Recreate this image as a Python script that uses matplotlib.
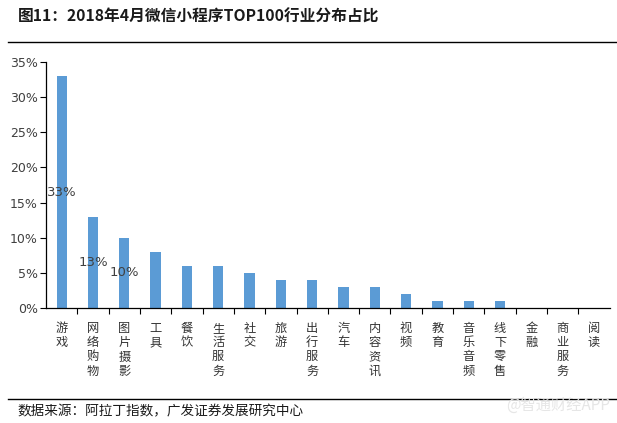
import matplotlib
matplotlib.use("Agg")
import matplotlib.pyplot as plt
import numpy as np
from matplotlib.lines import Line2D

plt.rcParams['font.family'] = ['Noto Sans CJK SC', 'DejaVu Sans']

# 行业分类与占比 (%)
hangye = ["游戏", "网络购物", "图片摄影", "工具", "餐饮", "生活服务", "社交", "旅游",
          "出行服务", "汽车", "内容资讯", "视频", "教育", "音乐音频", "线下零售",
          "金融", "商业服务", "阅读"]
zhanbi = [33, 13, 10, 8, 6, 6, 5, 4, 4, 3, 3, 2, 1, 1, 1, 0, 0, 0]
# 只标注前三个
biaozhu = [0, 1, 2]

fig = plt.figure(figsize=(6.17, 4.23), dpi=100)
ax = fig.add_axes([0.0746, 0.2719, 0.9134, 0.5816])

x = np.arange(len(hangye))
ax.bar(x, zhanbi, 0.33, color='#5B9BD5', zorder=2)

for i in biaozhu:
    ax.text(x[i], zhanbi[i] / 2, f"{zhanbi[i]}%", ha='center', va='center',
            fontsize=9.5, color='#404040', family=['DejaVu Sans'])

ax.set_xlim(-0.5, len(hangye) - 0.5)
ax.set_ylim(0, 35)
ax.set_yticks(np.arange(0, 36, 5))
ax.set_yticklabels([f"{v}%" for v in range(0, 36, 5)], fontsize=9, color='#404040',
                   family=['DejaVu Sans'])

# 类别间的刻度
ax.set_xticks(np.arange(0.5, len(hangye) - 0.5, 1))
ax.set_xticklabels([])
ax.tick_params(axis='x', direction='out', length=4, width=0.8)
ax.tick_params(axis='y', direction='out', length=4, width=0.8, pad=2)

for i, name in enumerate(hangye):
    ax.text(x[i], -2.0, "\n".join(name), ha='center', va='top', fontsize=8.8,
            color='#333333', linespacing=1.12)

for s in ['top', 'right']:
    ax.spines[s].set_visible(False)
for s in ['left', 'bottom']:
    ax.spines[s].set_color('black')
    ax.spines[s].set_linewidth(0.9)

fig.text(18 / 617, 1 - 17 / 423, "图11：2018年4月微信小程序TOP100行业分布占比",
         fontsize=11.3, fontweight='bold', va='center', ha='left', color='#1a1a1a')
fig.add_artist(Line2D([8 / 617, 1], [1 - 42 / 423] * 2, color='black', lw=1.0))
fig.add_artist(Line2D([8 / 617, 1], [1 - 399 / 423] * 2, color='black', lw=1.0))
fig.text(17 / 617, 1 - 411 / 423, "数据来源：阿拉丁指数，广发证券发展研究中心",
         fontsize=9.8, va='center', ha='left', color='#1a1a1a')
fig.text(610 / 617, 1 - 405 / 423, "@智通财经APP", fontsize=11, va='center',
         ha='right', color='#e6e6e6')

fig.savefig("out.png", dpi=100)
